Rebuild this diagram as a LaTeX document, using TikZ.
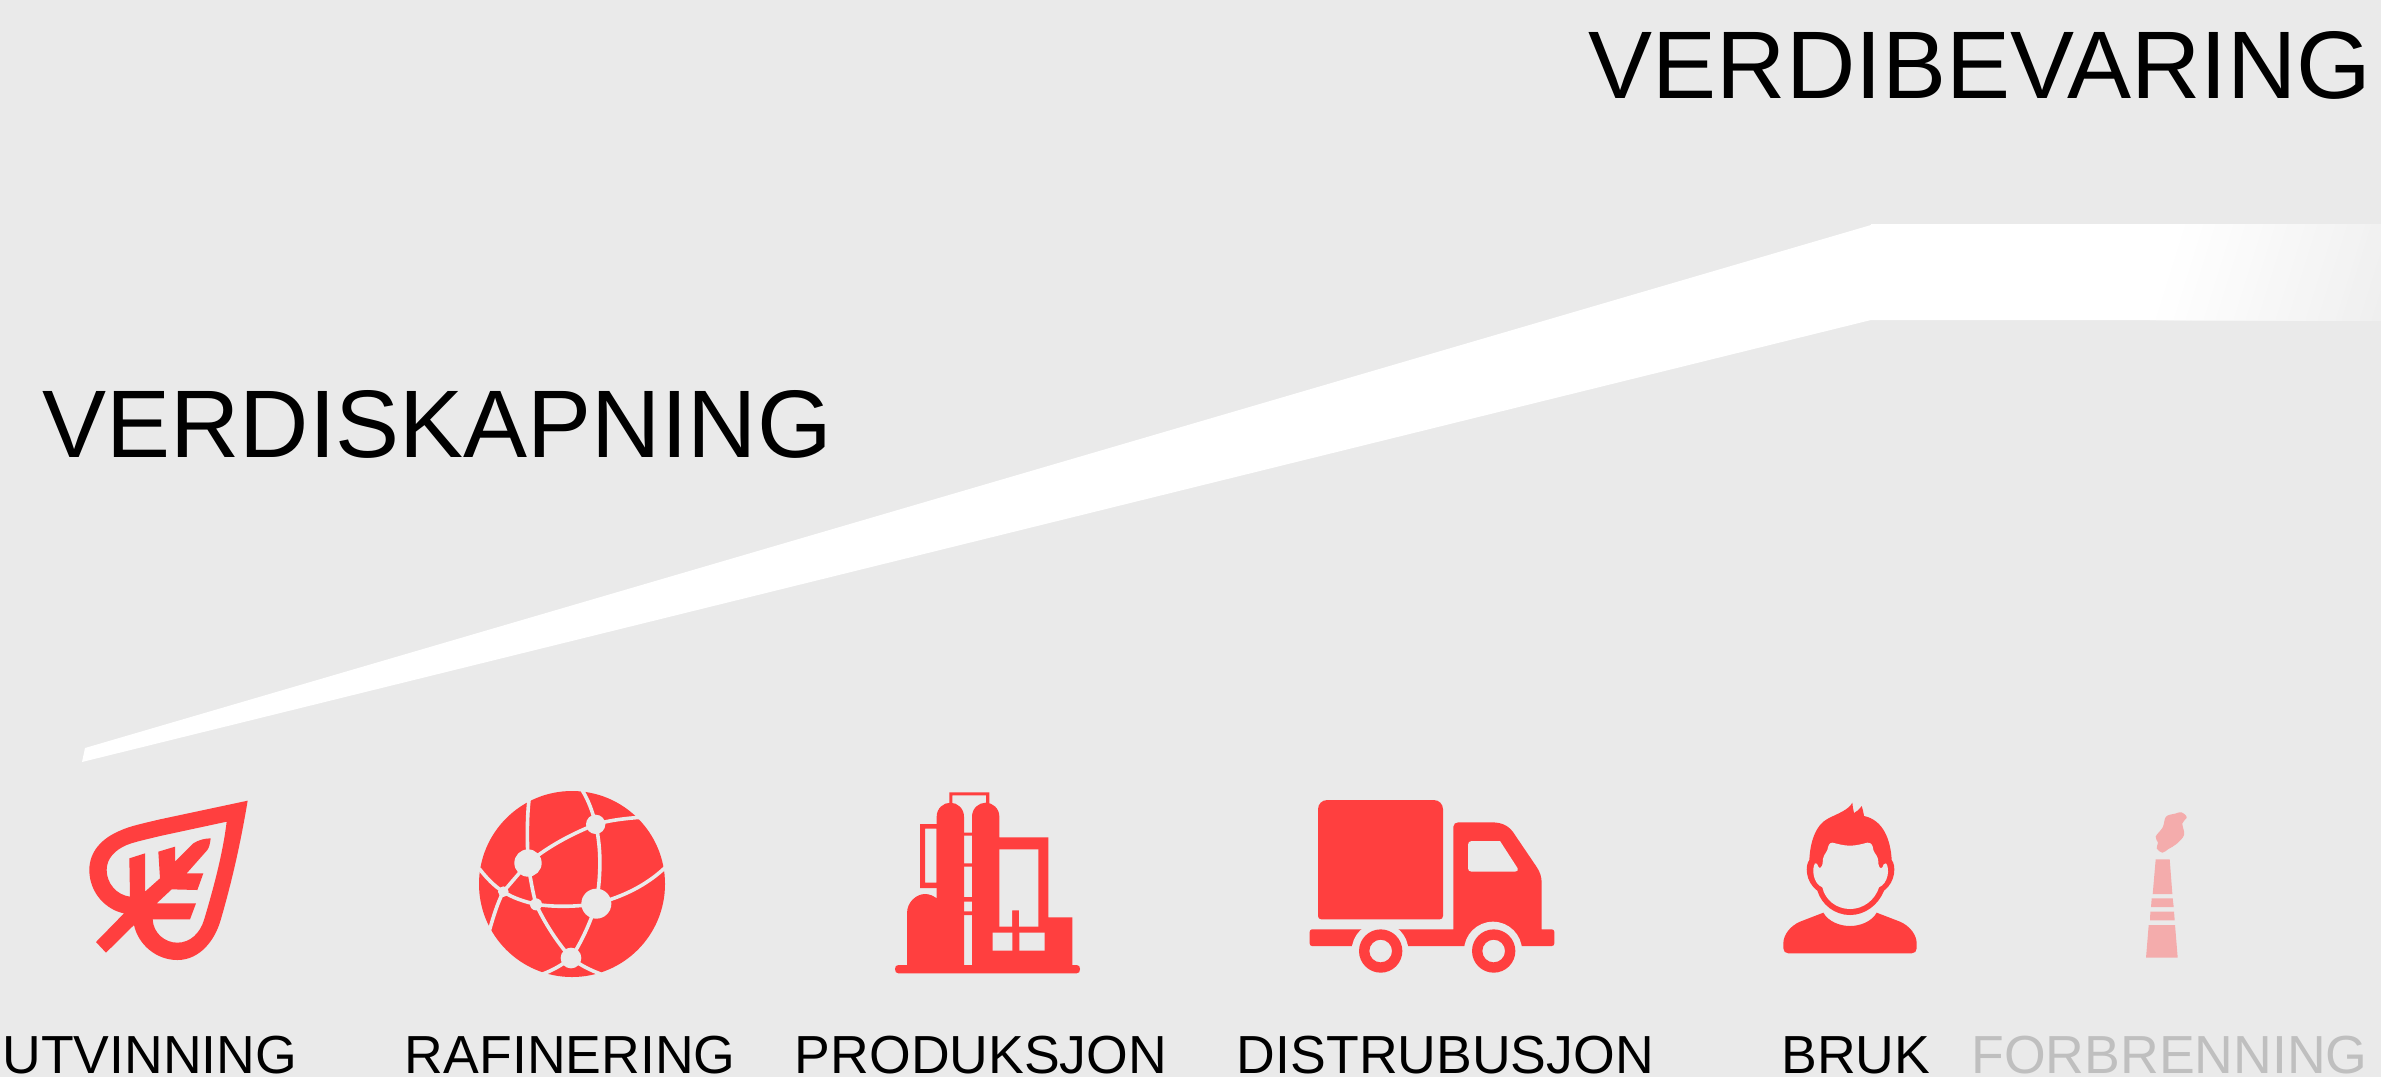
\documentclass[tikz,border=0pt]{standalone}
\usepackage{fontspec}
\setmainfont{Liberation Sans}
\definecolor{bg}{HTML}{EAEAEA}
\definecolor{ic}{HTML}{FF3F3F}
\definecolor{pale}{HTML}{F4ACAC}
\definecolor{fadegray}{HTML}{BFBFBF}
\tikzset{
  zoomat/.style 2 args={shift={(#1*0.5pt,-#2*0.5pt)},x=0.166667pt,y=-0.166667pt},
  bigtext/.style={anchor=base west,inner sep=0pt,font=\fontsize{48}{48}\selectfont,text=black},
  label/.style={anchor=base west,inner sep=0pt,font=\fontsize{26.8}{26.8}\selectfont,text=black},
  gap/.style={draw=bg,line width=1.8pt}
}
\begin{document}
\begin{tikzpicture}[x=0.5pt,y=-0.5pt]
\useasboundingbox (0,0) rectangle (2381,1077);
\fill[bg] (0,0) rectangle (2381,1077);
% ribbon
\fill[white] (82,762) -- (85,748) -- (1871,225) -- (1871,224) -- (2190,224) -- (2190,320) -- (1871,320) -- cycle;
\begin{scope}
\clip (2140,224) rectangle (2381,320);
\foreach \i [evaluate=\i as \p using \i*2, evaluate=\i as \xx using 2150+\i*6, evaluate=\i as \xy using 2180+\i*6] in {0,...,40}
  \fill[bg!\p!white] (\xx,320) -- (\xy,224) -- (2381,224) -- (2381,320) -- cycle;
\end{scope}
% texts
\node[bigtext] (vb) at (1588.5,98) {VERDIBEVARING};
\node[bigtext] (vs) at (42,457) {VERDISKAPNING};
\node[label] (l1) at (2,1073.5) {UTVINNING};
\node[label] (l2) at (404.5,1073.5) {RAFINERING};
\node[label] (l3) at (794.5,1073.5) {PRODUKSJON};
\node[label] (l4) at (1236.5,1073.5) {DISTRUBUSJON};
\node[label] (l5) at (1781,1073.5) {BRUK};
\node[label,text=fadegray] (l6) at (1971,1073.5) {FORBRENNING};
% leaf
\begin{scope}[zoomat={60}{770}]
\fill[ic,even odd rule] (563,92) -- (300,148) .. controls (250,160) and (210,168) .. (180,182) .. controls (125,205) and (88,245) .. (88,300) .. controls (88,370) and (140,420) .. (192,430) -- (108,516) -- (138,548) -- (222,465) .. controls (235,525) and (290,570) .. (352,570) .. controls (420,570) and (465,510) .. (482,450) .. controls (520,320) and (545,200) .. (563,92) -- cycle
(500,155) -- (300,198) .. controls (260,208) and (225,215) .. (200,225) .. controls (165,240) and (140,265) .. (140,300) .. controls (140,340) and (170,375) .. (210,380) -- (208,265) -- (255,250) -- (255,365) -- (300,325) -- (295,245) -- (345,230) -- (345,275) -- (400,220) .. controls (415,210) and (435,205) .. (452,205) .. controls (450,220) and (448,232) .. (442,240) -- (380,310) -- (430,310) -- (412,360) -- (335,358) -- (290,400) -- (408,400) -- (390,448) -- (278,448) .. controls (280,490) and (315,518) .. (352,518) .. controls (390,518) and (420,490) .. (432,450) .. controls (465,340) and (490,240) .. (500,155) -- cycle;
\end{scope}
% globe
\begin{scope}[zoomat={460}{770}]
\fill[ic] (336,342) circle[radius=279];
\draw[gap] (207,90) .. controls (200,150) and (202,220) .. (204,279);
\draw[gap] (204,279) .. controls (270,225) and (340,190) .. (407,163);
\draw[gap] (365,58) .. controls (385,90) and (398,125) .. (407,163);
\draw[gap] (407,163) .. controls (450,150) and (500,145) .. (540,142);
\draw[gap] (407,163) .. controls (425,240) and (422,320) .. (409,401);
\draw[gap] (409,401) .. controls (490,380) and (560,345) .. (615,293);
\draw[gap] (130,365) .. controls (105,350) and (80,325) .. (58,296);
\draw[gap] (130,365) -- (204,279);
\draw[gap] (130,365) .. controls (160,385) and (195,395) .. (228,403) .. controls (290,412) and (350,410) .. (409,401);
\draw[gap] (130,365) .. controls (112,400) and (100,440) .. (88,482);
\draw[gap] (204,279) .. controls (210,320) and (218,365) .. (228,403);
\draw[gap] (228,403) .. controls (255,460) and (290,515) .. (333,564);
\draw[gap] (409,401) .. controls (390,460) and (365,515) .. (333,564);
\draw[gap] (333,564) .. controls (305,585) and (280,600) .. (248,612);
\draw[gap] (333,564) .. controls (360,585) and (390,600) .. (422,612);
\fill[bg] (204,279) circle[radius=41] (407,163) circle[radius=29] (409,401) circle[radius=45] (228,403) circle[radius=18] (130,365) circle[radius=16] (333,564) circle[radius=31];
\end{scope}
% factory
\begin{scope}[zoomat={880}{770}]
\fill[ic] (55,585) -- (590,585) .. controls (597,585) and (600,590) .. (600,597) .. controls (600,605) and (597,610) .. (590,610) -- (55,610) .. controls (48,610) and (45,605) .. (45,597) .. controls (45,590) and (48,585) .. (55,585) -- cycle;
\fill[ic] (81,590) -- (81,430) .. controls (81,395) and (110,372) .. (135,372) .. controls (150,372) and (160,378) .. (170,385) -- (170,140) .. controls (170,115) and (190,98) .. (211,98) .. controls (232,98) and (252,115) .. (252,140) -- (252,590) -- cycle;
\fill[ic] (276,590) -- (276,140) .. controls (276,115) and (296,98) .. (317,98) .. controls (338,98) and (358,115) .. (358,140) -- (358,202) -- (505,202) -- (505,442) -- (577,442) -- (577,590) -- cycle;
\fill[ic] (208,67) rectangle (328,76) (208,67) rectangle (217,102) (318,67) rectangle (328,102);
\fill[ic,even odd rule] (120,162) rectangle (172,354) (135,176) rectangle (170,338);
\fill[ic] (250,188) rectangle (278,197) (250,280) rectangle (278,290) (250,381) rectangle (278,395) (250,424) rectangle (278,435);
\fill[bg] (358,238) -- (475,238) -- (475,470) -- (417,470) -- (417,421) -- (396,421) -- (396,470) -- (358,470) -- cycle;
\fill[bg] (338,488) rectangle (397,542) (418,488) rectangle (494,542);
\end{scope}
% truck
\begin{scope}[zoomat={1290}{780}]
\fill[ic] (112,60) -- (431,60) .. controls (447,60) and (459,72) .. (459,88) -- (459,408) .. controls (459,414) and (455,418) .. (449,418) -- (94,418) .. controls (88,418) and (84,414) .. (84,408) -- (84,88) .. controls (84,72) and (96,60) .. (112,60) -- cycle;
\fill[ic] (66,448) -- (490,448) -- (490,140) .. controls (490,132) and (497,127) .. (505,127) -- (605,127) .. controls (640,127) and (660,140) .. (675,165) -- (738,258) .. controls (750,275) and (755,290) .. (755,310) -- (755,448) -- (785,448) .. controls (790,448) and (793,451) .. (793,456) -- (793,490) .. controls (793,495) and (790,498) .. (785,498) -- (66,498) .. controls (62,498) and (59,495) .. (59,490) -- (59,456) .. controls (59,451) and (62,448) .. (66,448) -- cycle;
\fill[bg] (270,512) circle[radius=85] (609,512) circle[radius=87];
\fill[bg] (545,183) -- (630,183) -- (683,265) .. controls (685,270) and (682,275) .. (675,275) -- (545,275) .. controls (538,275) and (534,271) .. (534,265) -- (534,194) .. controls (534,188) and (538,183) .. (545,183) -- cycle;
\fill[ic,even odd rule] (272,513) circle[radius=65] (272,513) circle[radius=34];
\fill[ic,even odd rule] (611,513) circle[radius=65] (611,513) circle[radius=34];
\end{scope}
% person and chimney
\begin{scope}[zoomat={1760}{780}]
\fill[ic] (190,398) .. controls (205,425) and (240,438) .. (270,438) .. controls (300,438) and (335,425) .. (350,398) -- (420,425) .. controls (450,438) and (470,465) .. (470,490) -- (470,505) .. controls (470,514) and (464,520) .. (455,520) -- (85,520) .. controls (76,520) and (70,514) .. (70,505) -- (70,490) .. controls (70,465) and (90,438) .. (120,425) -- cycle;
\fill[ic] (148,240) .. controls (150,190) and (165,135) .. (205,115) .. controls (235,100) and (265,90) .. (277,68) .. controls (278,78) and (279,88) .. (282,99) .. controls (290,95) and (298,88) .. (305,78) .. controls (308,88) and (311,98) .. (312,108) .. controls (370,120) and (392,180) .. (395,240) .. controls (408,255) and (408,305) .. (372,332) .. controls (355,375) and (315,405) .. (270,405) .. controls (225,405) and (185,375) .. (172,332) .. controls (135,305) and (135,255) .. (148,240) -- cycle;
\fill[bg] (270,197) .. controls (250,197) and (235,192) .. (218,188) .. controls (208,188) and (205,195) .. (202,210) .. controls (195,225) and (188,225) .. (188,250) .. controls (186,262) and (178,268) .. (175,260) .. controls (172,252) and (170,248) .. (165,250) .. controls (155,265) and (158,310) .. (187,322) .. controls (195,360) and (230,387) .. (270,387) .. controls (310,387) and (345,360) .. (357,322) .. controls (385,310) and (390,265) .. (378,250) .. controls (372,248) and (370,255) .. (367,262) .. controls (362,268) and (356,262) .. (355,250) .. controls (355,225) and (345,225) .. (340,210) .. controls (338,195) and (335,188) .. (322,188) .. controls (305,192) and (290,197) .. (270,197) -- cycle;
\fill[pale] (1187,238) -- (1229,238) -- (1237,342) -- (1178,342) -- cycle;
\fill[pale] (1175,355) -- (1238,355) -- (1241,381) -- (1173,381) -- cycle;
\fill[pale] (1171,395) -- (1242,395) -- (1244,421) -- (1170,421) -- cycle;
\fill[pale] (1166,435) -- (1245,435) -- (1253,533) -- (1158,533) -- cycle;
\fill[pale] plot[smooth cycle,tension=0.6] coordinates {(1245,101) (1265,97) (1280,112) (1267,130) (1272,165) (1248,193) (1225,207) (1207,218) (1190,205) (1194,188) (1187,170) (1208,142) (1218,110)};
\end{scope}
\end{tikzpicture}
\end{document}
